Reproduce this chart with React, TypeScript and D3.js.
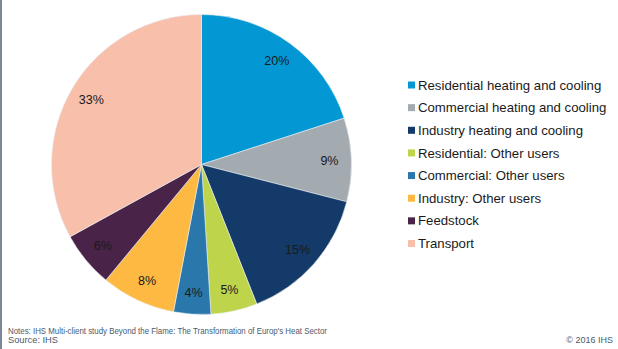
import React from "react";
import * as d3 from "d3";

const categories = [
  "Residential heating and cooling",
  "Commercial heating and cooling",
  "Industry heating and cooling",
  "Residential: Other users",
  "Commercial: Other users",
  "Industry: Other users",
  "Feedstock",
  "Transport",
];
const values = [20, 9, 15, 5, 4, 8, 6, 33];
const colors = ["#0398d4", "#a3abb1", "#133a68", "#bed44b", "#2a77ab", "#fdb942", "#4a2349", "#f8bfab"];
const notes = "Notes: IHS Multi-client study Beyond the Flame: The Transformation of Europ's Heat Sector";
const source = "Source: IHS";
const copyright = "© 2016 IHS";

export default function App() {
  const W = 618, H = 349;
  const cx = 201.5, cy = 164.5, r = 150;
  const pie = d3.pie<number>().sort(null).value((d) => d);
  const arcs = pie(values);
  const arcGen = d3.arc<d3.PieArcDatum<number>>().innerRadius(0).outerRadius(r);
  const labelArc = d3.arc<d3.PieArcDatum<number>>().innerRadius(128).outerRadius(128);
  const legendY = d3.scaleLinear().domain([0, 7]).range([85, 243.5]);
  const font = "Liberation Sans, Arial, sans-serif";
  return (
    <svg width={W} height={H} style={{ position: "absolute", left: 0, top: 0, fontFamily: font }}>
      <rect x={0} y={0} width={W} height={H} fill="#fff" />
      <rect x={0} y={0} width={2} height={H} fill="#7d8896" />
      <g transform={`translate(${cx},${cy})`}>
        {arcs.map((a, i) => (
          <path key={i} d={arcGen(a) || ""} fill={colors[i]} stroke="#e8eef2" strokeWidth={0.6} />
        ))}
        {arcs.map((a, i) => {
          const [x, y] = labelArc.centroid(a);
          return (
            <text key={i} x={x} y={y} dy="0.35em" textAnchor="middle" fontSize={12.5} fill="#1a1a1a">
              {values[i]}%
            </text>
          );
        })}
      </g>
      {categories.map((c, i) => (
        <g key={i} transform={`translate(0,${legendY(i)})`}>
          <rect x={408} y={-3.5} width={7} height={7} fill={colors[i]} />
          <text x={418} y={0} dy="0.35em" fontSize={13.2} fill="#1a1a1a">{c}</text>
        </g>
      ))}
      <text x={8} y={330.5} dy="0.35em" fontSize={9} fill="#4b5a6c" textLength={319} lengthAdjust="spacingAndGlyphs">{notes}</text>
      <text x={8} y={340} dy="0.35em" fontSize={9} fill="#4b5a6c" textLength={50} lengthAdjust="spacingAndGlyphs">{source}</text>
      <text x={613} y={340} dy="0.35em" fontSize={9} fill="#4b5a6c" textAnchor="end">{copyright}</text>
    </svg>
  );
}
